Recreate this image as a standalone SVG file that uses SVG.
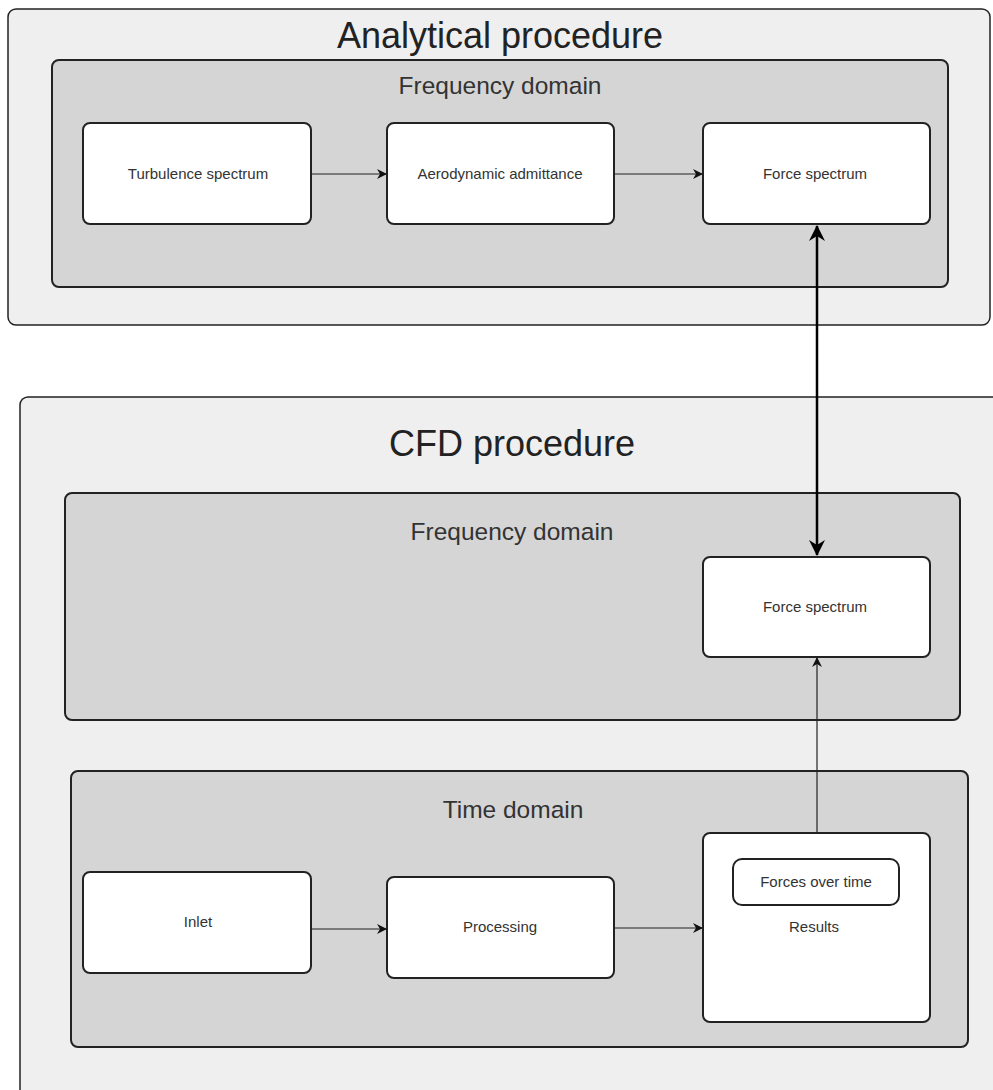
<svg xmlns="http://www.w3.org/2000/svg" width="993" height="1090" viewBox="0 0 993 1090">
<style>
.outer{fill:#efefef;stroke:#222;stroke-width:1.5}
.inner{fill:#d5d5d5;stroke:#222;stroke-width:2}
.box{fill:#fff;stroke:#222;stroke-width:2}
text{font-family:"Liberation Sans",Arial,sans-serif;text-anchor:middle;fill:#222}
.big{font-size:36px}
.mid{font-size:24.5px;fill:#333}
.small{font-size:15px;fill:#333}
.c{fill:none;stroke:#222;stroke-width:1.2}
.cb{fill:none;stroke:#000;stroke-width:2.5}
</style>
<defs>
<marker id="ah" markerWidth="10" markerHeight="10" refX="9" refY="5" orient="auto" markerUnits="userSpaceOnUse">
<path d="M0,0 L10,5 L0,10 L3,5 z" fill="#111"/>
</marker>
<marker id="ahb" markerWidth="16" markerHeight="16" refX="15" refY="8" orient="auto-start-reverse" markerUnits="userSpaceOnUse">
<path d="M0,0 L16,8 L0,16 L5,8 z" fill="#000"/>
</marker>
</defs>
<g id="analytical">
<rect class="outer" x="8" y="9" width="982" height="316" rx="8"/>
<text class="big" x="500" y="48">Analytical procedure</text>
</g>
<g id="analytical-freq">
<rect class="inner" x="52" y="60" width="896" height="227" rx="7"/>
<text class="mid" x="500" y="94">Frequency domain</text>
</g>
<g id="turbulence">
<rect class="box" x="83" y="123" width="228" height="101" rx="7"/>
<text class="small" x="198" y="179">Turbulence spectrum</text>
</g>
<g id="admittance">
<rect class="box" x="387" y="123" width="227" height="101" rx="7"/>
<text class="small" x="500" y="179">Aerodynamic admittance</text>
</g>
<g id="force-analytical">
<rect class="box" x="703" y="123" width="227" height="101" rx="7"/>
<text class="small" x="815" y="179">Force spectrum</text>
</g>
<g id="cfd">
<rect class="outer" x="20" y="397" width="990" height="710" rx="8"/>
<text class="big" x="512" y="456">CFD procedure</text>
</g>
<g id="cfd-freq">
<rect class="inner" x="65" y="493" width="895" height="227" rx="7"/>
<text class="mid" x="512" y="540">Frequency domain</text>
</g>
<g id="force-cfd">
<rect class="box" x="703" y="557" width="227" height="100" rx="7"/>
<text class="small" x="815" y="612">Force spectrum</text>
</g>
<g id="time">
<rect class="inner" x="71" y="771" width="897" height="276" rx="7"/>
<text class="mid" x="513" y="818">Time domain</text>
</g>
<g id="inlet">
<rect class="box" x="83" y="872" width="228" height="101" rx="7"/>
<text class="small" x="198" y="927">Inlet</text>
</g>
<g id="processing">
<rect class="box" x="387" y="877" width="227" height="101" rx="7"/>
<text class="small" x="500" y="932">Processing</text>
</g>
<g id="results">
<rect class="box" x="703" y="833" width="227" height="189" rx="7"/>
<text class="small" x="814" y="932">Results</text>
</g>
<g id="forces-over-time">
<rect class="box" x="733" y="859" width="166" height="46" rx="9"/>
<text class="small" x="816" y="887">Forces over time</text>
</g>
<g id="connectors">
<path class="c" d="M311,174 L386,174" marker-end="url(#ah)"/>
<path class="c" d="M614,174 L702,174" marker-end="url(#ah)"/>
<path class="c" d="M311,929 L386,929" marker-end="url(#ah)"/>
<path class="c" d="M614,928 L702,928" marker-end="url(#ah)"/>
<path class="c" d="M817,833 L817,658" marker-end="url(#ah)"/>
<path class="cb" d="M817,226 L817,555" marker-start="url(#ahb)" marker-end="url(#ahb)"/>
</g>
</svg>
